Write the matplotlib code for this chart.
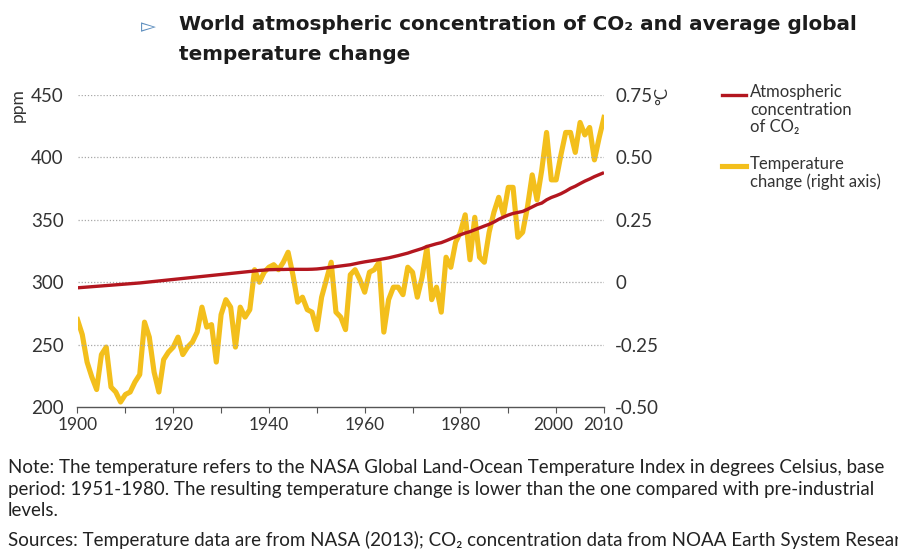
import numpy as np
import matplotlib
matplotlib.use("Agg")
import matplotlib.pyplot as plt
from matplotlib.lines import Line2D
from matplotlib.transforms import ScaledTranslation

# yearly data
years = np.arange(1900, 2011)
co2_ppm = [295.5, 295.8, 296.1, 296.4, 296.7, 297.0, 297.3, 297.6, 297.9, 298.2,
           298.5, 298.8, 299.1, 299.4, 299.8, 300.2, 300.6, 301.0, 301.4, 301.8,
           302.2, 302.6, 303.0, 303.4, 303.8, 304.2, 304.6, 305.0, 305.4, 305.8,
           306.2, 306.6, 307.0, 307.4, 307.8, 308.2, 308.6, 309.0, 309.4, 309.7,
           310.0, 310.1, 310.2, 310.2, 310.3, 310.3, 310.3, 310.3, 310.3, 310.4,
           310.6, 311.0, 311.5, 312.0, 312.5, 313.0, 313.5, 314.0, 314.8, 315.6,
           316.3, 316.9, 317.5, 318.1, 318.8, 319.5, 320.4, 321.3, 322.3, 323.3,
           324.6, 325.8, 327.0, 328.6, 329.7, 330.8, 331.7, 333.2, 334.8, 336.4,
           338.0, 339.4, 340.5, 342.0, 343.5, 345.0, 346.4, 348.2, 350.4, 352.2,
           353.8, 355.1, 355.9, 356.7, 358.4, 360.3, 362.2, 363.4, 366.0, 367.9,
           369.3, 370.9, 372.9, 375.2, 376.9, 379.0, 381.0, 382.7, 384.6, 386.2,
           387.8]
temp_change = [-0.15, -0.21, -0.32, -0.38, -0.43, -0.29, -0.26, -0.42, -0.44, -0.48,
               -0.45, -0.44, -0.40, -0.37, -0.16, -0.22, -0.36, -0.44, -0.31, -0.28,
               -0.26, -0.22, -0.29, -0.26, -0.24, -0.20, -0.10, -0.18, -0.17, -0.32,
               -0.13, -0.07, -0.10, -0.26, -0.10, -0.14, -0.11, 0.05, 0.00, 0.04,
               0.06, 0.07, 0.05, 0.08, 0.12, 0.03, -0.08, -0.06, -0.11, -0.12,
               -0.19, -0.06, 0.01, 0.08, -0.12, -0.14, -0.19, 0.03, 0.05, 0.01,
               -0.04, 0.04, 0.05, 0.08, -0.20, -0.07, -0.02, -0.02, -0.05, 0.06,
               0.04, -0.06, 0.02, 0.14, -0.07, -0.02, -0.12, 0.10, 0.06, 0.16,
               0.20, 0.27, 0.09, 0.26, 0.10, 0.08, 0.20, 0.28, 0.34, 0.27,
               0.38, 0.38, 0.18, 0.20, 0.30, 0.43, 0.33, 0.45, 0.60, 0.41,
               0.41, 0.51, 0.60, 0.60, 0.52, 0.64, 0.59, 0.62, 0.49, 0.58,
               0.66]
ppm_ticks = [200, 250, 300, 350, 400, 450]
temp_ticks = [-0.50, -0.25, 0.0, 0.25, 0.50, 0.75]
temp_labels = ["-0.50", "-0.25", "0", "0.25", "0.50", "0.75"]
year_ticks = list(range(1900, 2011, 10))
year_labels = ["1900", "", "1920", "", "1940", "", "1960", "", "1980", "", "2000", "2010"]

RED = "#b3161f"
YEL = "#f3bf1c"
TXT = "#333333"
plt.rcParams["font.family"] = ["Lato", "DejaVu Sans"]

W, H = 898, 549
fig = plt.figure(figsize=(W / 100, H / 100), dpi=100)
def fx(px): return px / W
def fy(py): return 1 - py / H

ax = fig.add_axes([fx(77.5), fy(407), fx(604) - fx(77.5), fy(95) - fy(407)])
ax2 = ax.twinx()

ax.set_xlim(1900, 2010)
ax.set_ylim(200, 450)
ax2.set_ylim(-0.5, 0.75)

for y in ppm_ticks[1:]:
    ax.axhline(y, color="#a8a8a8", lw=0.9, ls=(0, (1, 1.5)), zorder=0)

ax.plot(years, co2_ppm, color=RED, lw=2.4, zorder=3, solid_capstyle="butt")
ax2.plot(years, temp_change, color=YEL, lw=3.7, zorder=2, solid_joinstyle="round")
ax.set_zorder(ax2.get_zorder() + 1)
ax.patch.set_visible(False)

for a in (ax, ax2):
    for s in ("top", "left", "right"):
        a.spines[s].set_visible(False)
ax.spines["bottom"].set_color("#555555")
ax.spines["bottom"].set_linewidth(1.0)
ax2.spines["bottom"].set_visible(False)

ax.set_xticks(year_ticks)
ax.set_xticklabels(year_labels)
ax.tick_params(axis="x", direction="out", length=4, width=0.8, color="#555555",
               labelsize=12.5, labelcolor=TXT, pad=3)
# nudge the crowded last two year labels apart
labs = ax.get_xticklabels()
labs[10].set_transform(labs[10].get_transform() + ScaledTranslation(-0.03, 0, fig.dpi_scale_trans))
labs[11].set_transform(labs[11].get_transform() + ScaledTranslation(-0.01, 0, fig.dpi_scale_trans))
ax.set_yticks(ppm_ticks)
ax.tick_params(axis="y", length=0, labelsize=13.5, labelcolor=TXT, pad=10)
ax2.set_yticks(temp_ticks)
ax2.set_yticklabels(temp_labels)
ax2.tick_params(axis="y", length=0, labelsize=13.5, labelcolor=TXT, pad=8)

# axis unit labels
fig.text(fx(18), fy(105), "ppm", rotation=90, ha="center", va="center", fontsize=12.5, color=TXT)
fig.text(fx(662), fy(96), "°C", rotation=90, ha="center", va="center", fontsize=12, color=TXT)

# title
fig.text(fx(148), fy(27), "▻", ha="center", va="center", fontsize=14, color="#5f8fbf",
         family="DejaVu Sans")
fig.text(fx(179), fy(25), "World atmospheric concentration of CO₂ and average global",
         ha="left", va="center", fontsize=14.4, fontweight="bold", color="#1c1c1c",
         family="DejaVu Sans")
fig.text(fx(179), fy(54), "temperature change",
         ha="left", va="center", fontsize=14.4, fontweight="bold", color="#1c1c1c",
         family="DejaVu Sans")

# legend
fig.add_artist(Line2D([fx(722), fx(746)], [fy(95), fy(95)], color=RED, lw=2.4))
fig.text(fx(750), fy(84), "Atmospheric\nconcentration\nof CO₂", ha="left", va="top",
         fontsize=12, color=TXT, linespacing=1.12)
fig.add_artist(Line2D([fx(722), fx(746)], [fy(166), fy(166)], color=YEL, lw=3.7))
fig.text(fx(750), fy(156), "Temperature\nchange (right axis)", ha="left", va="top",
         fontsize=12, color=TXT, linespacing=1.12)

# notes (the reference crops these lines at the right edge)
NOTE = dict(ha="left", va="center", fontsize=13.5, color="#222222")
fig.text(fx(8), fy(467), "Note: The temperature refers to the NASA Global Land-Ocean Temperature Index in degrees Celsius, base", **NOTE)
fig.text(fx(8), fy(490), "period: 1951-1980. The resulting temperature change is lower than the one compared with pre-industrial", **NOTE)
fig.text(fx(8), fy(511), "levels.", **NOTE)
fig.text(fx(8), fy(540), "Sources: Temperature data are from NASA (2013); CO₂ concentration data from NOAA Earth System Research", **NOTE)

fig.savefig("out.png", dpi=100)
